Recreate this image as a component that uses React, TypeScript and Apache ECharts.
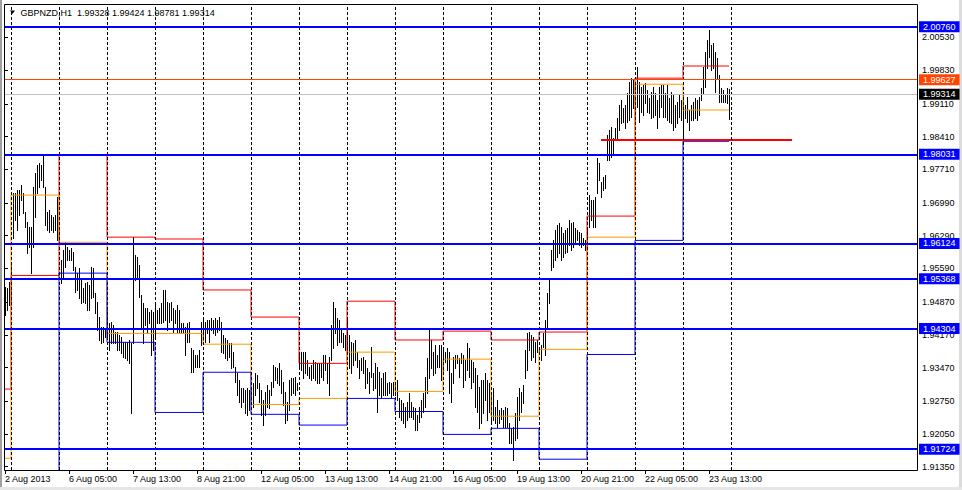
import * as echarts from "echarts";
import { useEffect, useRef } from "react";

// GBPNZD H1 bars, 2 Aug 2013 .. 23 Aug 2013 (one row per trading day)
const highs = [
  1.9519, 1.9517, 1.953, 1.9573,
  1.972, 1.972, 1.9726, 1.9726, 1.9737, 1.972, 1.9679, 1.9658, 1.9647, 1.9647, 1.9733, 1.9763, 1.978, 1.9784, 1.978, 1.9801, 1.9733, 1.9679, 1.9684, 1.9673, 1.9669, 1.9673, 1.9711, 1.9641,
  1.9577, 1.9598, 1.9615, 1.9604, 1.9598, 1.9602, 1.9594, 1.9562, 1.9549, 1.956, 1.9538, 1.9517, 1.9528, 1.953, 1.9523, 1.9562, 1.956, 1.9506, 1.9487, 1.9455, 1.9433, 1.9433, 1.9427, 1.947,
  1.9442, 1.9444, 1.9438, 1.9423, 1.9423, 1.9416, 1.9412, 1.9401, 1.9401, 1.9401, 1.9406, 1.9399, 1.9626, 1.9587, 1.9583, 1.9566, 1.9502, 1.9485, 1.9474, 1.9474, 1.9466, 1.947, 1.9466, 1.9485,
  1.947, 1.9474, 1.9485, 1.9513, 1.9513, 1.9487, 1.9485, 1.9487, 1.9474, 1.947, 1.948, 1.947, 1.9442, 1.9442, 1.9433, 1.9442, 1.9444, 1.9388, 1.9384, 1.9373, 1.9373, 1.9384, 1.9444, 1.9448,
  1.9444, 1.9448, 1.9448, 1.9453, 1.9448, 1.9453, 1.9448, 1.9455, 1.9444, 1.9416, 1.941, 1.9406, 1.9399, 1.9399, 1.938, 1.9348, 1.9335, 1.932, 1.9303, 1.9303, 1.9299, 1.9303, 1.9299, 1.9303,
  1.9313, 1.9335, 1.9331, 1.9313, 1.9299, 1.9277, 1.9294, 1.9309, 1.9299, 1.9316, 1.9352, 1.9348, 1.9346, 1.9356, 1.9341, 1.9316, 1.9294, 1.9273, 1.932, 1.9324, 1.9324, 1.9326, 1.9313, 1.9378,
  1.938, 1.938, 1.938, 1.9363, 1.9348, 1.9352, 1.9363, 1.9358, 1.9356, 1.9356, 1.9356, 1.9373, 1.9373, 1.9356, 1.9369, 1.9438, 1.9487, 1.9474, 1.9453, 1.9448, 1.9431, 1.942, 1.9416, 1.9448,
  1.9416, 1.9401, 1.9399, 1.9406, 1.938, 1.9363, 1.9367, 1.9369, 1.9363, 1.9346, 1.9337, 1.939, 1.9335, 1.9356, 1.9348, 1.9337, 1.9324, 1.9335, 1.9337, 1.9313, 1.9316, 1.9313, 1.9316, 1.9313,
  1.932, 1.9281, 1.9277, 1.9271, 1.9262, 1.9273, 1.9292, 1.9273, 1.9262, 1.926, 1.9245, 1.9262, 1.9277, 1.9292, 1.9326, 1.9367, 1.9427, 1.9406, 1.938, 1.9395, 1.9373, 1.9395, 1.9395, 1.939,
  1.938, 1.9388, 1.938, 1.9335, 1.9369, 1.9373, 1.9373, 1.9367, 1.9378, 1.9373, 1.9363, 1.9399, 1.9388, 1.9363, 1.9358, 1.9346, 1.9331, 1.9305, 1.932, 1.932, 1.9335, 1.932, 1.9313, 1.9292,
  1.9303, 1.9262, 1.9277, 1.9256, 1.926, 1.9256, 1.9262, 1.926, 1.9228, 1.9217, 1.9219, 1.9249, 1.9283, 1.9303, 1.9294, 1.9309, 1.9384, 1.942, 1.9423, 1.9416, 1.9412, 1.9401, 1.9406, 1.939,
  1.9395, 1.942, 1.9448, 1.9506, 1.9534, 1.9598, 1.9619, 1.9641, 1.9652, 1.9656, 1.9647, 1.9634, 1.9641, 1.9645, 1.9662, 1.9656, 1.9658, 1.9645, 1.9641, 1.9637, 1.9634, 1.9624, 1.9619, 1.9647,
  1.9716, 1.9705, 1.9705, 1.9711, 1.9795, 1.9784, 1.9744, 1.9754, 1.9758, 1.9844, 1.9855, 1.9861, 1.9838, 1.9859, 1.988, 1.9908, 1.9919, 1.9902, 1.9908, 1.9934, 1.9958, 1.9966, 1.9962, 1.9951,
  1.999, 1.9958, 1.9947, 1.9951, 1.9955, 1.994, 1.9923, 1.9936, 1.9947, 1.9934, 1.9919, 1.9947, 1.9951, 1.9951, 1.9934, 1.9951, 1.9923, 1.9936, 1.993, 1.9908, 1.9915, 1.993, 1.9919, 1.9934,
  1.9908, 1.9925, 1.9898, 1.9908, 1.9915, 1.9923, 1.9919, 1.9925, 1.9945, 1.999, 2.0022, 2.0047, 2.0068, 2.0037, 2.0041, 2.0022, 2.0009, 1.9973, 1.9945, 1.994, 1.993, 1.9945, 1.99424,
];

const lows = [
  1.9459, 1.947, 1.948, 1.948,
  1.9624, 1.9662, 1.9641, 1.9673, 1.9705, 1.9677, 1.9647, 1.9592, 1.9604, 1.9549, 1.9604, 1.9669, 1.972, 1.9733, 1.9748, 1.9733, 1.9652, 1.9641, 1.9637, 1.9641, 1.9637, 1.9641, 1.9619, 1.9613,
  1.9528, 1.9538, 1.9562, 1.9577, 1.9577, 1.9577, 1.9555, 1.9508, 1.9513, 1.9495, 1.9485, 1.9487, 1.9485, 1.947, 1.947, 1.9495, 1.9497, 1.9463, 1.9427, 1.9406, 1.9399, 1.9401, 1.9412, 1.9412,
  1.9384, 1.9399, 1.9399, 1.9399, 1.9384, 1.9384, 1.9378, 1.9369, 1.9367, 1.9363, 1.9356, 1.9249, 1.9399, 1.9534, 1.9538, 1.9497, 1.9433, 1.9399, 1.9438, 1.942, 1.9442, 1.9373, 1.9384, 1.9412,
  1.9442, 1.9442, 1.9442, 1.9444, 1.9448, 1.9427, 1.9444, 1.9448, 1.9423, 1.9442, 1.9423, 1.9423, 1.9423, 1.942, 1.9373, 1.9401, 1.9401, 1.9337, 1.9337, 1.9348, 1.9348, 1.9348, 1.9395, 1.9406,
  1.9401, 1.942, 1.9401, 1.9427, 1.942, 1.9416, 1.9423, 1.9427, 1.938, 1.9378, 1.9367, 1.9363, 1.9369, 1.9346, 1.9348, 1.9316, 1.9288, 1.9273, 1.9262, 1.9273, 1.9249, 1.9245, 1.9256, 1.9277,
  1.9262, 1.9288, 1.9303, 1.9273, 1.9245, 1.9224, 1.9245, 1.9262, 1.926, 1.9288, 1.9305, 1.932, 1.9313, 1.9309, 1.9292, 1.9266, 1.9228, 1.9234, 1.9256, 1.9288, 1.9292, 1.9288, 1.9299, 1.9348,
  1.9341, 1.9324, 1.9335, 1.9331, 1.9324, 1.932, 1.9324, 1.932, 1.9313, 1.9313, 1.9326, 1.932, 1.9341, 1.9313, 1.9288, 1.9363, 1.9388, 1.942, 1.9395, 1.9401, 1.9401, 1.939, 1.9384, 1.9378,
  1.9346, 1.9335, 1.9352, 1.9363, 1.9348, 1.9324, 1.9341, 1.9335, 1.9303, 1.9313, 1.9292, 1.9326, 1.9299, 1.9303, 1.9251, 1.9288, 1.9283, 1.9288, 1.9288, 1.9288, 1.9292, 1.9283, 1.9288, 1.9288,
  1.9277, 1.9241, 1.9234, 1.9228, 1.9219, 1.9234, 1.9241, 1.9241, 1.9238, 1.9213, 1.9213, 1.923, 1.9241, 1.9251, 1.9262, 1.9292, 1.9324, 1.9346, 1.9331, 1.9335, 1.9348, 1.9348, 1.932, 1.9337,
  1.9358, 1.9341, 1.9292, 1.9273, 1.9313, 1.9346, 1.9356, 1.9326, 1.9356, 1.9305, 1.932, 1.9341, 1.9326, 1.9303, 1.9316, 1.9262, 1.9251, 1.9217, 1.9228, 1.9249, 1.9277, 1.9234, 1.9251, 1.923,
  1.9234, 1.9228, 1.9219, 1.9228, 1.9238, 1.9219, 1.9219, 1.9219, 1.9185, 1.9185, 1.9149, 1.9192, 1.9196, 1.9234, 1.9251, 1.9271, 1.9324, 1.9341, 1.9384, 1.9363, 1.9369, 1.9358, 1.938, 1.9378,
  1.9363, 1.939, 1.9373, 1.9433, 1.9485, 1.9555, 1.9562, 1.9577, 1.9583, 1.9592, 1.9577, 1.9583, 1.9592, 1.9594, 1.9609, 1.9598, 1.9604, 1.9613, 1.9619, 1.9609, 1.9604, 1.9609, 1.9598, 1.9604,
  1.9647, 1.9662, 1.9647, 1.9647, 1.972, 1.9748, 1.9711, 1.9726, 1.9731, 1.9791, 1.9791, 1.9797, 1.9806, 1.9833, 1.9838, 1.9855, 1.987, 1.9872, 1.9859, 1.9872, 1.9876, 1.9883, 1.9902, 1.987,
  1.9904, 1.9872, 1.9893, 1.9887, 1.9913, 1.9893, 1.9891, 1.988, 1.9883, 1.9887, 1.9859, 1.9883, 1.9904, 1.9883, 1.9883, 1.9876, 1.9872, 1.987, 1.9855, 1.9861, 1.987, 1.9883, 1.9876, 1.9838,
  1.988, 1.9872, 1.9855, 1.9876, 1.9876, 1.988, 1.9876, 1.9887, 1.9919, 1.9934, 1.9947, 1.9987, 2.0011, 1.9983, 1.9987, 1.9936, 1.9966, 1.9915, 1.9915, 1.9915, 1.9915, 1.9913, 1.98781,
];

// daily indicator levels, first entry is the partial day before the first separator
const redLevels = [1.9301, 1.9544, 1.9801, 1.9626, 1.9622, 1.9513, 1.9455, 1.9356, 1.9489, 1.9406, 1.9425, 1.9406, 1.9423, 1.9671, 1.9966, 1.9992];
const orangeLevels = [1.9153, 1.9716, 1.9615, 1.942, 1.942, 1.9397, 1.9268, 1.9281, 1.938, 1.9296, 1.9365, 1.9243, 1.9386, 1.9626, 1.9953, 1.9898];
const blueLevels = [null, 1.91, 1.9549, 1.9401, 1.9251, 1.9337, 1.9247, 1.9224, 1.9281, 1.9253, 1.9204, 1.9217, 1.9151, 1.9375, 1.9619, 1.9831];

// horizontal objects
const blueLines = [2.0076, 1.98031, 1.96124, 1.95368, 1.94304, 1.91724];
const orangeRedLine = 1.99627;
const bidLine = 1.99314;
const trendLevel = 1.9834;
const trendBars = [298, 393.5];

const priceTicks = [2.0053, 1.9983, 1.9911, 1.9841, 1.9771, 1.9699, 1.9629, 1.9559, 1.9487, 1.9417, 1.9347, 1.9275, 1.9205, 1.9135];
const timeLabels = [
  "2 Aug 2013", "6 Aug 05:00", "7 Aug 13:00", "8 Aug 21:00", "12 Aug 05:00", "13 Aug 13:00",
  "14 Aug 21:00", "16 Aug 05:00", "19 Aug 13:00", "20 Aug 21:00", "22 Aug 05:00", "23 Aug 13:00",
];
const timeLabelBars = [0, 32, 64, 96, 128, 160, 192, 224, 256, 288, 320, 352];

const BARS_PER_DAY = 24;
const FIRST_DAY = 3; // bar index where the first full day begins
const FONT = '"Liberation Sans", Arial, sans-serif';

function stepData(levels: (number | null)[]) {
  const pts = levels.map((v, d) => [d === 0 ? 0 : FIRST_DAY + BARS_PER_DAY * (d - 1), v]);
  pts.push([highs.length - 1, levels[levels.length - 1]]);
  return pts;
}

function lineLabel(bg: string) {
  return {
    show: true,
    position: "end",
    distance: 2,
    formatter: (p: any) => Number(p.value).toFixed(5),
    color: "#fff",
    backgroundColor: bg,
    padding: [1, 4, 0, 4],
    lineHeight: 10,
    fontSize: 9,
    fontFamily: FONT,
  };
}

export default function App() {
  const chartRef = useRef<HTMLDivElement>(null);

  useEffect(() => {
    if (!chartRef.current) return;
    const chart = echarts.init(chartRef.current, null, { renderer: "svg" });

    const separators = [];
    for (let d = 0; d <= 15; d++) separators.push({ xAxis: FIRST_DAY + 0.25 + BARS_PER_DAY * d });

    const stepSeries = (levels: (number | null)[], color: string) => ({
      type: "line",
      step: "end",
      data: stepData(levels),
      symbol: "none",
      silent: true,
      z: 3,
      lineStyle: { color, width: 1 },
    });

    chart.setOption({
      animation: false,
      backgroundColor: "#fff",
      grid: { left: 4, top: 5, width: 913, height: 465, show: false, containLabel: false, outerBoundsMode: "none" },
      xAxis: {
        type: "value",
        min: -0.5,
        max: 456,
        splitLine: { show: false },
        axisLine: { show: false },
        axisTick: { show: true, customValues: timeLabelBars, length: 4, lineStyle: { color: "#000" } },
        axisLabel: {
          customValues: timeLabelBars,
          formatter: (v: number) => timeLabels[timeLabelBars.indexOf(v)] ?? "",
          align: "left",
          margin: 4,
          color: "#000",
          fontSize: 9,
          fontFamily: FONT,
        },
      },
      yAxis: {
        type: "value",
        position: "right",
        min: 1.91279,
        max: 2.01225,
        splitLine: { show: false },
        axisLine: { show: false },
        axisTick: { show: true, customValues: priceTicks, length: 3, lineStyle: { color: "#000" } },
        axisLabel: {
          customValues: priceTicks,
          formatter: (v: number) => v.toFixed(5),
          margin: 5,
          color: "#000",
          fontSize: 9,
          fontFamily: FONT,
        },
      },
      graphic: [
        { type: "rect", shape: { x: 0, y: 0, width: 2, height: 490 }, style: { fill: "#a0a0a0" }, silent: true },
        { type: "rect", shape: { x: 959, y: 0, width: 3, height: 490 }, style: { fill: "#dcdcdc" }, silent: true },
        { type: "rect", shape: { x: 0, y: 487, width: 962, height: 3 }, style: { fill: "#e6e6e6" }, silent: true },
        {
          type: "rect",
          shape: { x: 4.5, y: 4.5, width: 913, height: 466 },
          style: { fill: "none", stroke: "#000", lineWidth: 1 },
          silent: true,
          z: 10,
        },
        {
          type: "polygon",
          shape: { points: [[10, 10.5], [15, 10.5], [12.5, 14]] },
          style: { fill: "#000" },
          silent: true,
          z: 10,
        },
        {
          type: "text",
          x: 20.5,
          y: 13,
          style: {
            text: "GBPNZD,H1\u00a0 1.99328 1.99424 1.98781 1.99314",
            fill: "#000",
            fontSize: 9,
            fontFamily: FONT,
            verticalAlign: "middle",
          },
          silent: true,
          z: 10,
        },
      ],
      series: [
        {
          // period separators
          type: "line",
          data: [],
          z: 1,
          markLine: {
            silent: true,
            precision: 2,
            symbol: ["none", "none"],
            label: { show: false },
            lineStyle: { type: [3, 2], color: "#000", width: 1 },
            data: separators,
          },
        },
        {
          type: "custom",
          z: 2,
          silent: true,
          clip: true,
          data: highs.map((h, i) => [i, lows[i], h]),
          encode: { x: 0, y: [1, 2] },
          renderItem: (_params: any, api: any) => {
            const i = api.value(0);
            const top = api.coord([i, api.value(2)]);
            const bottom = api.coord([i, api.value(1)]);
            const x = Math.floor(top[0]) + 0.5;
            return {
              type: "line",
              shape: { x1: x, y1: Math.round(top[1]), x2: x, y2: Math.round(bottom[1]) + 1 },
              style: { stroke: "#000", lineWidth: 1 },
            };
          },
        },
        stepSeries(redLevels, "#ff0000"),
        stepSeries(orangeLevels, "#ff9900"),
        stepSeries(blueLevels, "#0000ff"),
        {
          type: "line",
          data: trendBars.map((b) => [b, trendLevel]),
          symbol: "none",
          silent: true,
          z: 4,
          lineStyle: { color: "#ff0000", width: 2 },
        },
        {
          type: "line",
          data: [],
          z: 5,
          markLine: {
            silent: true,
            precision: 5,
            symbol: ["none", "none"],
            data: [
              {
                yAxis: bidLine,
                lineStyle: { color: "#c0c0c0", width: 1, type: "solid" },
                label: lineLabel("#000"),
              },
              {
                yAxis: orangeRedLine,
                lineStyle: { color: "#ff4500", width: 1, type: "solid" },
                label: lineLabel("#ff4500"),
              },
              ...blueLines.map((v) => ({
                yAxis: v,
                lineStyle: { color: "#0000ff", width: 2, type: "solid" },
                label: lineLabel("#0000ff"),
              })),
            ],
          },
        },
      ],
    });

    return () => {
      chart.dispose();
    };
  }, []);

  return (
    <div
      ref={chartRef}
      style={{ position: "fixed", left: 0, top: 0, width: 962, height: 490, background: "#fff" }}
    />
  );
}
